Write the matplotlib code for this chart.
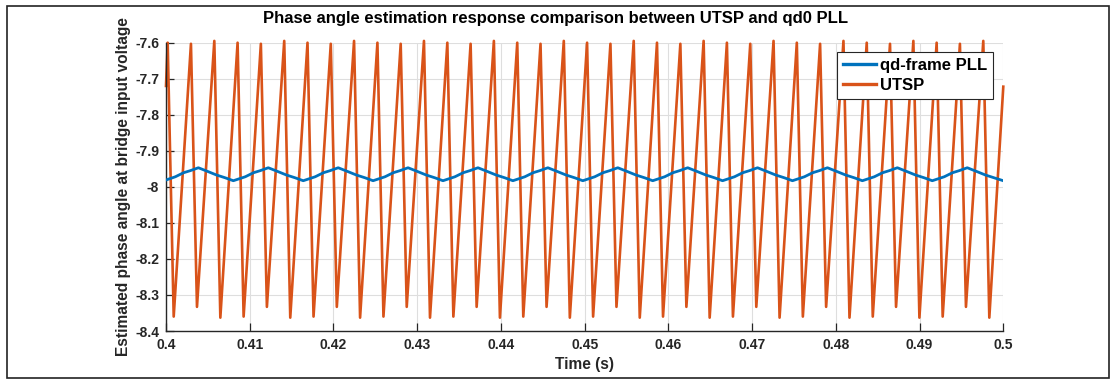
import matplotlib
matplotlib.use("Agg")
import matplotlib.pyplot as plt
from matplotlib.patches import Rectangle
from matplotlib.ticker import FuncFormatter

# UTSP estimate: sawtooth vertices
utsp_t_start, utsp_v_start = 0.40000, -7.720
utsp_t_end, utsp_v_end = 0.50000, -7.722

utsp_peak_t = [0.40020, 0.40298, 0.40577, 0.40855, 0.41133, 0.41412,
               0.41690, 0.41968, 0.42246, 0.42525, 0.42803, 0.43081,
               0.43360, 0.43638, 0.43916, 0.44195, 0.44473, 0.44751,
               0.45029, 0.45308, 0.45586, 0.45864, 0.46143, 0.46421,
               0.46699, 0.46978, 0.47256, 0.47534, 0.47812, 0.48091,
               0.48369, 0.48647, 0.48926, 0.49204, 0.49482, 0.49761]
utsp_peak_v = [-7.600, -7.603, -7.595] * 12

utsp_trough_t = [0.40092, 0.40370, 0.40649, 0.40927, 0.41205, 0.41484,
                 0.41762, 0.42040, 0.42318, 0.42597, 0.42875, 0.43153,
                 0.43432, 0.43710, 0.43988, 0.44267, 0.44545, 0.44823,
                 0.45101, 0.45380, 0.45658, 0.45936, 0.46215, 0.46493,
                 0.46771, 0.47050, 0.47328, 0.47606, 0.47884, 0.48163,
                 0.48441, 0.48719, 0.48998, 0.49276, 0.49554, 0.49833]
utsp_trough_v = [-8.360, -8.333, -8.363] * 12

# qd-frame PLL estimate, one row per 120 Hz ripple cycle
pll_t = [0.40000, 0.40112, 0.40208, 0.40291, 0.40387, 0.40506, 0.40602, 0.40709,
         0.40804, 0.40947, 0.41043, 0.41126, 0.41222, 0.41341, 0.41437, 0.41544,
         0.41639, 0.41782, 0.41878, 0.41961, 0.42057, 0.42176, 0.42272, 0.42379,
         0.42473, 0.42616, 0.42712, 0.42795, 0.42891, 0.43010, 0.43106, 0.43213,
         0.43308, 0.43451, 0.43547, 0.43630, 0.43726, 0.43845, 0.43941, 0.44048,
         0.44143, 0.44286, 0.44382, 0.44465, 0.44561, 0.44680, 0.44776, 0.44883,
         0.44978, 0.45121, 0.45217, 0.45300, 0.45396, 0.45515, 0.45611, 0.45718,
         0.45813, 0.45956, 0.46052, 0.46135, 0.46231, 0.46350, 0.46446, 0.46553,
         0.46647, 0.46790, 0.46886, 0.46969, 0.47065, 0.47184, 0.47280, 0.47387,
         0.47482, 0.47625, 0.47721, 0.47804, 0.47900, 0.48019, 0.48115, 0.48222,
         0.48317, 0.48460, 0.48556, 0.48639, 0.48735, 0.48854, 0.48950, 0.49057,
         0.49152, 0.49295, 0.49391, 0.49474, 0.49570, 0.49689, 0.49785, 0.49892,
         0.50000]
pll_v = [-7.981, -7.972, -7.961, -7.955, -7.947, -7.958, -7.967, -7.975,
         -7.983, -7.972, -7.961, -7.955, -7.947, -7.958, -7.967, -7.975,
         -7.983, -7.972, -7.961, -7.955, -7.947, -7.958, -7.967, -7.975,
         -7.983, -7.972, -7.961, -7.955, -7.947, -7.958, -7.967, -7.975,
         -7.983, -7.972, -7.961, -7.955, -7.947, -7.958, -7.967, -7.975,
         -7.983, -7.972, -7.961, -7.955, -7.947, -7.958, -7.967, -7.975,
         -7.983, -7.972, -7.961, -7.955, -7.947, -7.958, -7.967, -7.975,
         -7.983, -7.972, -7.961, -7.955, -7.947, -7.958, -7.967, -7.975,
         -7.983, -7.972, -7.961, -7.955, -7.947, -7.958, -7.967, -7.975,
         -7.983, -7.972, -7.961, -7.955, -7.947, -7.958, -7.967, -7.975,
         -7.983, -7.972, -7.961, -7.955, -7.947, -7.958, -7.967, -7.975,
         -7.983, -7.972, -7.961, -7.955, -7.947, -7.958, -7.967, -7.975,
         -7.983]

x_ticks = [0.40, 0.41, 0.42, 0.43, 0.44, 0.45, 0.46, 0.47, 0.48, 0.49, 0.50]
y_ticks = [-8.4, -8.3, -8.2, -8.1, -8.0, -7.9, -7.8, -7.7, -7.6]

TITLE = "Phase angle estimation response comparison between UTSP and qd0 PLL"
BLUE = "#0072BD"
ORANGE = "#D95319"
AXCOL = "#262626"

plt.rcParams["font.family"] = ["Liberation Sans", "DejaVu Sans"]
plt.rcParams["font.weight"] = "bold"
plt.rcParams["axes.labelweight"] = "bold"

# interleave sawtooth vertices
utsp_t = [utsp_t_start]
utsp_v = [utsp_v_start]
for pt, pv, tt, tv in zip(utsp_peak_t, utsp_peak_v, utsp_trough_t, utsp_trough_v):
    utsp_t += [pt, tt]
    utsp_v += [pv, tv]
utsp_t.append(utsp_t_end)
utsp_v.append(utsp_v_end)

W, H = 1111, 379
fig = plt.figure(figsize=(W / 100, H / 100), dpi=100)
ax = fig.add_axes([166 / W, 1 - 331 / H, (1003.3 - 166) / W, (331 - 42.7) / H])

ax.plot(pll_t, pll_v, color=BLUE, lw=2.0, label="qd-frame PLL", zorder=3,
        solid_joinstyle="round")
ax.plot(utsp_t, utsp_v, color=ORANGE, lw=1.9, label="UTSP", zorder=2,
        clip_on=False)

ax.set_xlim(0.4, 0.5)
ax.set_ylim(-8.4, -7.6)
ax.set_xticks(x_ticks)
ax.set_yticks(y_ticks)
fmt = FuncFormatter(lambda v, _: f"{v:g}")
ax.xaxis.set_major_formatter(fmt)
ax.yaxis.set_major_formatter(fmt)

ax.grid(True, color="#dedede", lw=0.8)
ax.set_axisbelow(True)
for side in ("top", "right"):
    ax.spines[side].set_visible(False)
for side in ("left", "bottom"):
    ax.spines[side].set_color(AXCOL)
    ax.spines[side].set_linewidth(1.0)
ax.tick_params(direction="in", length=6, width=0.9, color=AXCOL,
               labelcolor=AXCOL, labelsize=10, pad=5)

ax.set_xlabel("Time (s)", fontsize=11.2, color=AXCOL, labelpad=4)
ax.set_ylabel("Estimated phase angle at bridge input voltage", fontsize=11.2,
              color=AXCOL, labelpad=3)

fig.text(0.5, 1 - 18 / H, TITLE, ha="center", va="center", fontsize=12,
         fontweight="bold")

leg = ax.legend(loc="upper right", bbox_to_anchor=(0.988, 0.968), fontsize=12,
                frameon=True, fancybox=False, edgecolor="#262626",
                framealpha=1, handlelength=2.0, handletextpad=0.25,
                borderpad=0.35, labelspacing=0.3, borderaxespad=0)
leg.get_frame().set_linewidth(0.8)
for line in leg.get_lines():
    line.set_linewidth(2.4)

fig.patches.append(Rectangle((7 / W, 1 - 378 / H), (1109 - 7) / W, (378 - 6) / H,
                             transform=fig.transFigure, fill=False,
                             ec="#222222", lw=1.2))

fig.savefig("out.png", dpi=100)
